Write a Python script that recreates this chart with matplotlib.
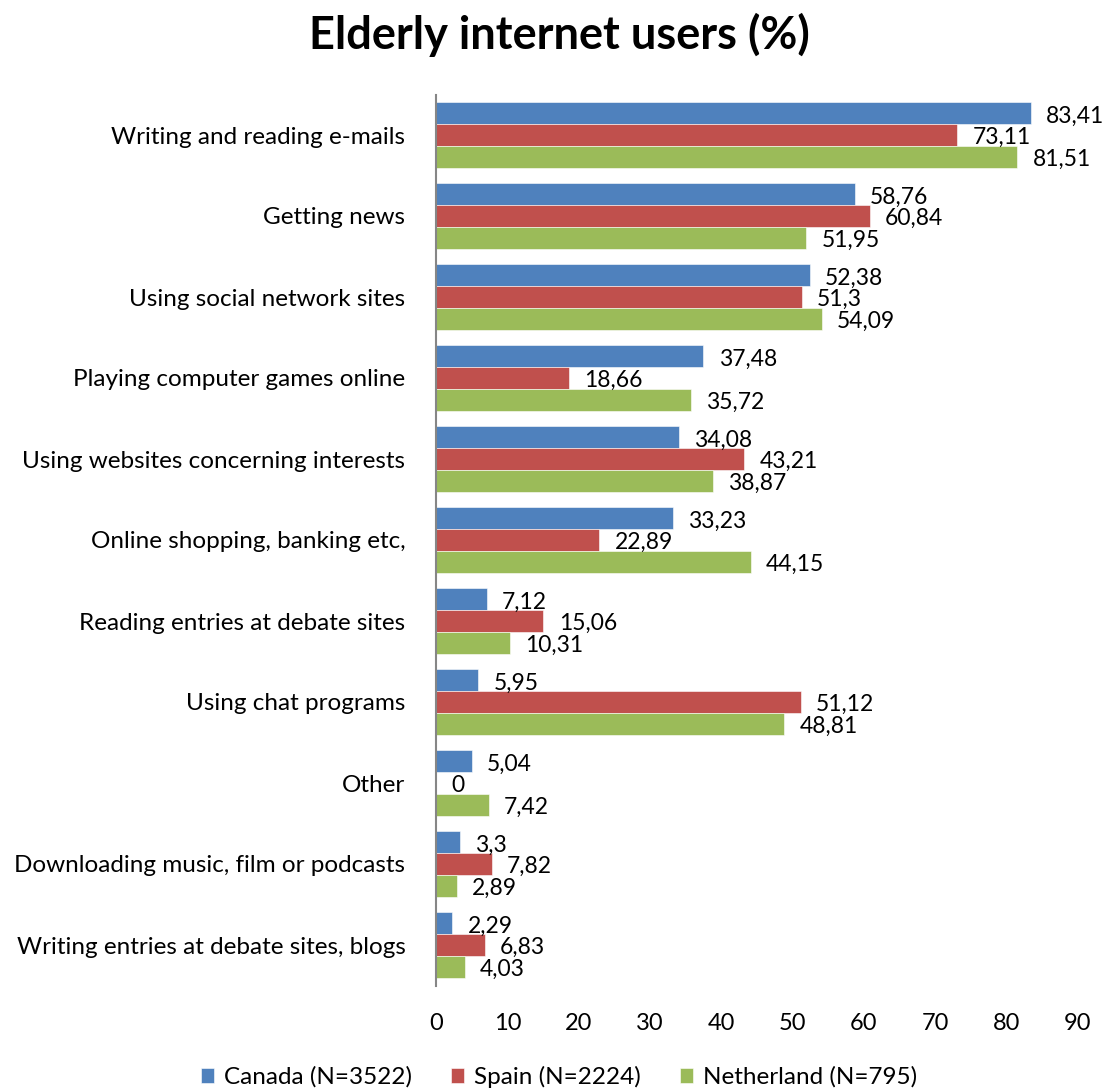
import matplotlib
matplotlib.use("Agg")
import matplotlib.pyplot as plt
import numpy as np

plt.rcParams["font.family"] = ["Lato", "DejaVu Sans"]

categories = [
    "Writing and reading e-mails",
    "Getting news",
    "Using social network sites",
    "Playing computer games online",
    "Using websites concerning interests",
    "Online shopping, banking etc,",
    "Reading entries at debate sites",
    "Using chat programs",
    "Other",
    "Downloading music, film or podcasts",
    "Writing entries at debate sites, blogs",
]
canada = [83.41, 58.76, 52.38, 37.48, 34.08, 33.23, 7.12, 5.95, 5.04, 3.3, 2.29]
spain = [73.11, 60.84, 51.3, 18.66, 43.21, 22.89, 15.06, 51.12, 0, 7.82, 6.83]
netherland = [81.51, 51.95, 54.09, 35.72, 38.87, 44.15, 10.31, 48.81, 7.42, 2.89, 4.03]
series_names = ["Canada (N=3522)", "Spain (N=2224)", "Netherland (N=795)"]
colors = ["#4F81BD", "#C0504D", "#9BBB59"]

fig = plt.figure(figsize=(11.18, 10.91), dpi=100)
ax = fig.add_axes([0.390, 1 - 985.5 / 1091, 0.574, (985.5 - 94.5) / 1091])

y = np.arange(len(categories))
h = 0.27
for i, (vals, name, c) in enumerate(zip([canada, spain, netherland], series_names, colors)):
    pos = y + (i - 1) * h
    ax.barh(pos, vals, height=h, color=c, edgecolor="white", linewidth=0.4, label=name)
    for p, v in zip(pos, vals):
        ax.annotate(f"{v:g}".replace(".", ","), (v, p), xytext=(11, -2),
                    textcoords="offset points", ha="left", va="center", fontsize=16.5)

ax.set_xlim(0, 90)
ax.set_ylim(len(categories) - 0.5, -0.5)
ax.set_xticks(range(0, 91, 10))
ax.set_yticks(y)
ax.set_yticklabels(categories, fontsize=17.5)
ax.tick_params(axis="x", labelsize=17, length=0, pad=20)
ax.tick_params(axis="y", length=0, pad=22)
for side in ["top", "right", "bottom"]:
    ax.spines[side].set_visible(False)
ax.spines["left"].set_color("#868686")
ax.spines["left"].set_linewidth(1.5)

fig.suptitle("Elderly internet users (%)", fontsize=32.5, fontweight="bold", y=0.988)
fig.legend(loc="center", bbox_to_anchor=(0.5, 1 - 1077 / 1091), ncol=3, frameon=False,
           fontsize=17.5, handlelength=0.55, handleheight=0.55, handletextpad=0.4,
           columnspacing=1.6)

fig.savefig("out.png", dpi=100)
